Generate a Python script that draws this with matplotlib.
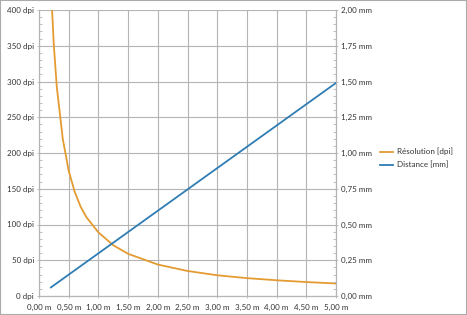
import numpy as np
import matplotlib.pyplot as plt
from matplotlib.ticker import MultipleLocator, FuncFormatter
from matplotlib.patches import Rectangle

# distances (m) and values
dist_res = [0.22, 0.25, 0.30, 0.40, 0.50, 0.60, 0.70, 0.80, 1.00, 1.25, 1.50,
            2.00, 2.50, 3.00, 3.50, 4.00, 4.50, 5.00]
resolution = [400, 350, 292, 220, 175, 146, 125, 110, 89, 71, 59,
              44, 35, 29, 25, 22, 19.5, 17.5]
dist_mm = [0.20, 5.00]
distance = [0.06, 1.49]

x_ticks = [0, 0.5, 1, 1.5, 2, 2.5, 3, 3.5, 4, 4.5, 5]
dpi_ticks = [0, 50, 100, 150, 200, 250, 300, 350, 400]
mm_ticks = [0, 0.25, 0.5, 0.75, 1.0, 1.25, 1.5, 1.75, 2.0]

orange = '#E39B32'
blue = '#2E7DB4'
grid = '#b4b4b4'
txt = '#333333'

plt.rcParams['font.family'] = ['Lato', 'DejaVu Sans']

fig = plt.figure(figsize=(4.67, 3.15), dpi=100)
ax = fig.add_axes([39/467, 1 - 296/315, (336-39)/467, (296-10)/315])
ax2 = ax.twinx()

l1, = ax.plot(dist_res, resolution, color=orange, lw=1.3, label='Résolution [dpi]')
l2, = ax2.plot(dist_mm, distance, color=blue, lw=1.3, label='Distance [mm]')

ax.set_xlim(0, 5)
ax.set_ylim(0, 400)
ax2.set_ylim(0, 2)
ax.set_xticks(x_ticks)
ax.set_yticks(dpi_ticks)
ax2.set_yticks(mm_ticks)
ax.yaxis.set_minor_locator(MultipleLocator(10))
ax2.yaxis.set_minor_locator(MultipleLocator(0.05))

ax.xaxis.set_major_formatter(FuncFormatter(lambda v, p: f'{v:.2f} m'.replace('.', ',')))
ax.yaxis.set_major_formatter(FuncFormatter(lambda v, p: f'{v:.0f} dpi'))
ax2.yaxis.set_major_formatter(FuncFormatter(lambda v, p: f'{v:.2f} mm'.replace('.', ',')))

ax.grid(True, color=grid, lw=0.8)
ax.set_axisbelow(True)
for a in (ax, ax2):
    a.spines['top'].set_visible(False)
    for s in ('left', 'right', 'bottom'):
        a.spines[s].set_color(grid)
        a.spines[s].set_linewidth(0.8)
    a.tick_params(which='both', colors=grid, labelcolor=txt, labelsize=5.8, width=0.6)
    a.tick_params(which='major', length=3, direction='inout', pad=2)
    a.tick_params(which='minor', length=2, direction='in')
ax.tick_params(axis='x', pad=4)

fig.legend(handles=[l1, l2], loc='center left', bbox_to_anchor=(380/467, 1 - 158/315),
           frameon=False, fontsize=5.8, handlelength=1.6, handletextpad=0.5,
           labelspacing=0.7, labelcolor=txt, borderaxespad=0, borderpad=0)

fig.patches.append(Rectangle((0, 0), 1, 1, transform=fig.transFigure, fill=False,
                             edgecolor='#aaaaaa', lw=1.5))

fig.savefig('out.png', dpi=100)
